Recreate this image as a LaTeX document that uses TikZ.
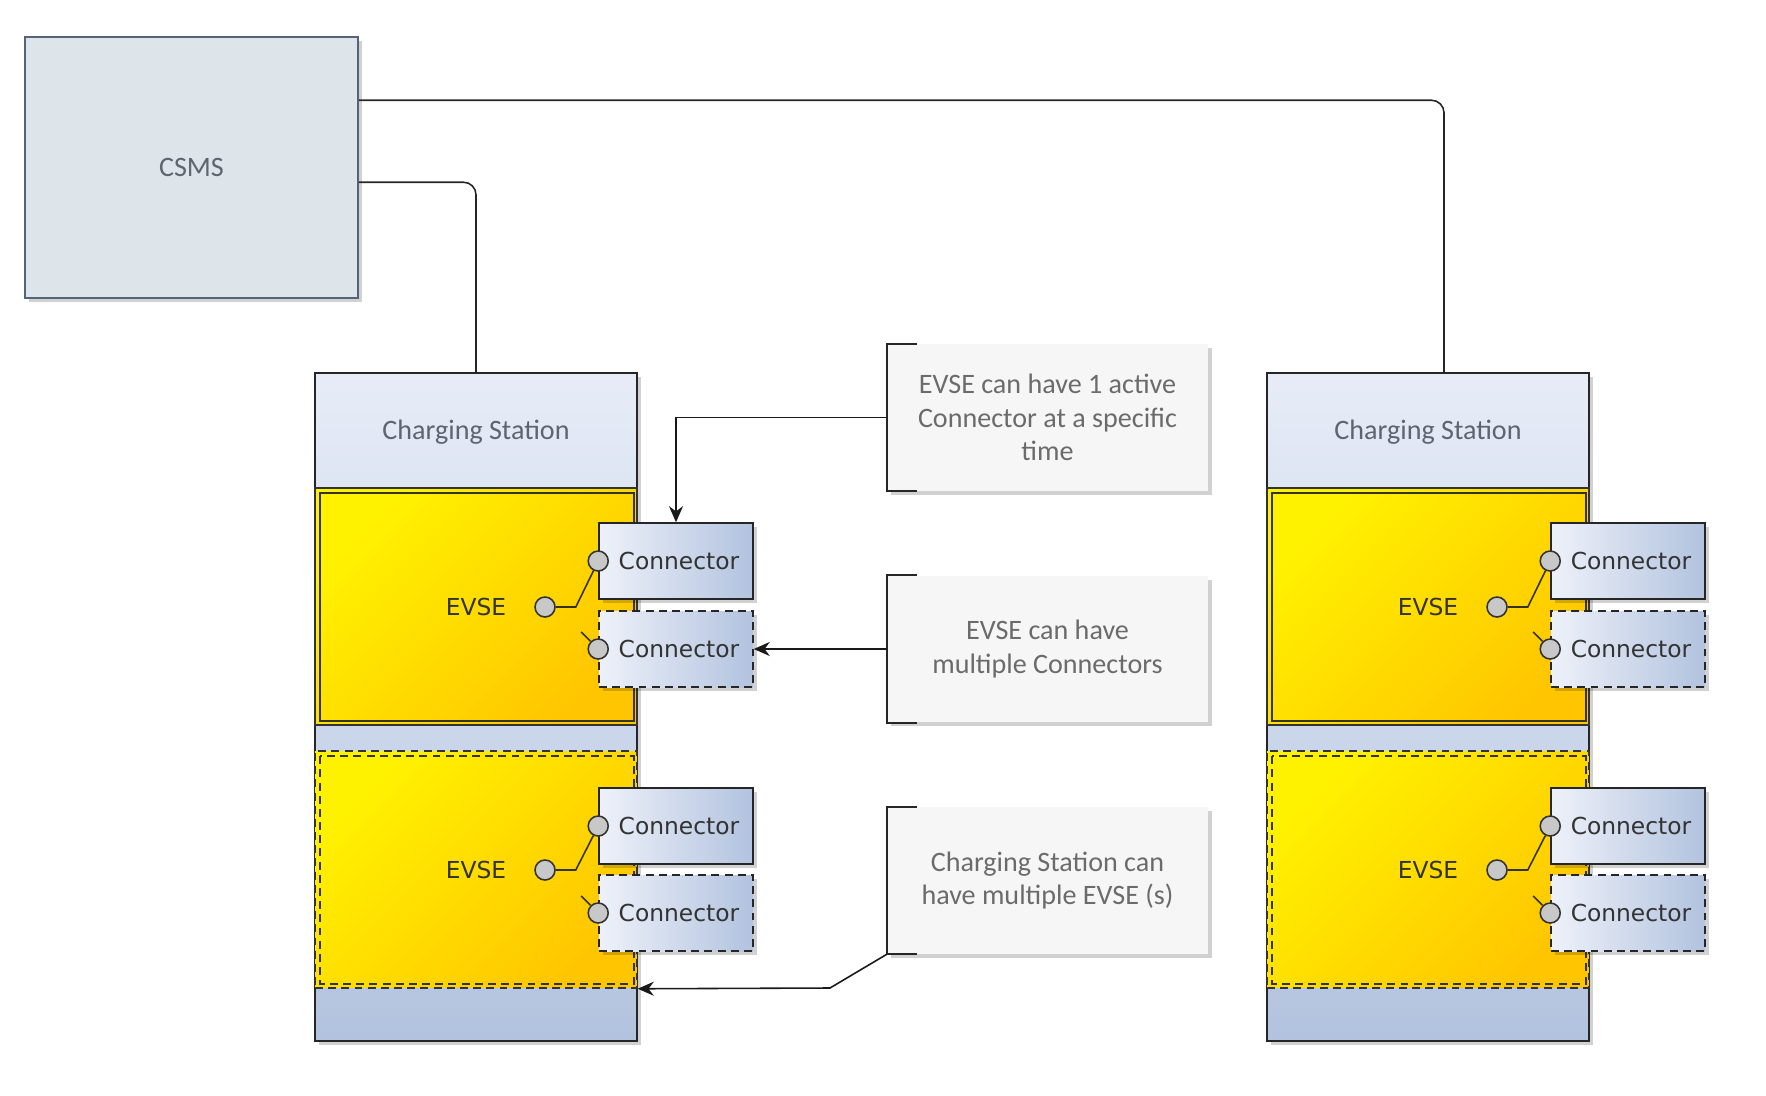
\documentclass[tikz,border=0pt]{standalone}
\usepackage{fontspec}
\setmainfont{Carlito}
\newfontfamily\dejavu{DejaVu Sans}
\usetikzlibrary{
    arrows.meta,
    positioning,
    calc,
    shadows
}
\definecolor{csmsFill}{RGB}{221,229,234}
\definecolor{csmsLine}{RGB}{86,100,122}
\definecolor{stTop}{RGB}{231,236,247}
\definecolor{stBot}{RGB}{178,195,223}
\definecolor{evLight}{RGB}{255,242,0}
\definecolor{evDark}{RGB}{255,198,0}
\definecolor{conLight}{RGB}{238,241,249}
\definecolor{conDark}{RGB}{178,195,223}
\definecolor{plugFill}{RGB}{200,200,200}
\definecolor{noteFill}{RGB}{246,246,246}
\definecolor{txtGray}{RGB}{95,100,110}
\definecolor{wireDark}{RGB}{55,50,30}
\tikzset{
  lowshadow/.style = {drop shadow={shadow xshift=0.08cm, shadow yshift=-0.08cm,
                      fill=black, opacity=0.18}},
  csms/.style      = {draw=csmsLine, fill=csmsFill, line width=0.9pt,
                      minimum width=6.66cm, minimum height=5.22cm,
                      font=\fontsize{16}{19}\selectfont, text=txtGray, lowshadow},
  station/.style   = {draw=black!85, line width=1.1pt, top color=stTop,
                      bottom color=stBot, minimum width=6.44cm,
                      minimum height=13.36cm, lowshadow},
  stlabel/.style   = {font=\fontsize{16}{19}\selectfont, text=txtGray},
  evse/.style      = {draw=black!80, line width=0.9pt, top color=evLight,
                      bottom color=evDark, shading angle=45,
                      minimum width=6.44cm, minimum height=4.74cm,
                      font=\dejavu\fontsize{13.3}{16}\selectfont, text=black!80},
  evsealt/.style   = {evse, dash pattern=on 4.5pt off 3pt},
  conbox/.style    = {draw=black!85, line width=0.9pt, left color=conLight,
                      right color=conDark, minimum width=3.08cm,
                      minimum height=1.52cm, inner sep=0pt,
                      font=\dejavu\fontsize{13.3}{16}\selectfont, text=black!80,
                      lowshadow},
  conalt/.style    = {conbox, dash pattern=on 4.5pt off 3pt},
  plug/.style      = {circle, draw=black!80, fill=plugFill, line width=0.9pt,
                      minimum size=0.4cm, inner sep=0pt},
  note/.style      = {fill=noteFill, minimum width=6.42cm, minimum height=2.94cm,
                      align=center, font=\fontsize{16}{19}\selectfont,
                      text=black!58, lowshadow},
  bracket/.style   = {draw=black!85, line width=1.1pt},
  wire/.style      = {draw=wireDark, line width=0.9pt},
  link/.style      = {draw=black!85, line width=0.9pt, rounded corners=0.25cm},
  arr/.style       = {-{Stealth[length=0.32cm,width=0.28cm]}, draw=black!90,
                      line width=0.9pt}
}

\begin{document}
\begin{tikzpicture}[x=0.02cm, y=-0.02cm]
\useasboundingbox (0,0) rectangle (1766,1096);

% --- CENTRAL SYSTEM ---
\node[csms] (csms) at (191.5,167.5) {CSMS};

% --- LEFT CHARGING STATION ---
\node[station] (stA) at (476,707) {};
\node[stlabel] (tA) at (476,432) {Charging Station};
\node[evse] (evA1) at (476,606.5) {EVSE};
\draw[draw=black!80, line width=0.9pt]
    ($(evA1.north west)+(6,6)$) rectangle ($(evA1.south east)+(-4,-5)$);
\node[evsealt] (evA2) at (476,869.5) {EVSE};
\draw[draw=black!80, line width=0.9pt, dash pattern=on 4.5pt off 3pt]
    ($(evA2.north west)+(6,6)$) rectangle ($(evA2.south east)+(-4,-5)$);

\node[conbox] (conA1) at (676,561) {\hspace{0.12cm}Connector};
\node[conalt] (conA2) at (676,649) {\hspace{0.12cm}Connector};
\node[conbox] (conA3) at (676,826) {\hspace{0.12cm}Connector};
\node[conalt] (conA4) at (676,913) {\hspace{0.12cm}Connector};

\node[plug] (peA1) at (545,607) {};
\node[plug] (peA2) at (545,870) {};
\node[plug] (pcA1) at (conA1.west) {};
\node[plug] (pcA2) at (conA2.west) {};
\node[plug] (pcA3) at (conA3.west) {};
\node[plug] (pcA4) at (conA4.west) {};
\draw[wire] (peA1.east) -- ++(20,0) -- (pcA1);
\draw[wire] (peA2.east) -- ++(20,0) -- (pcA3);
\draw[wire] (pcA2) -- ++(-17,-17);
\draw[wire] (pcA4) -- ++(-17,-17);

% --- RIGHT CHARGING STATION ---
\node[station] (stB) at (1428,707) {};
\node[stlabel] (tB) at (1428,432) {Charging Station};
\node[evse] (evB1) at (1428,606.5) {EVSE};
\draw[draw=black!80, line width=0.9pt]
    ($(evB1.north west)+(6,6)$) rectangle ($(evB1.south east)+(-4,-5)$);
\node[evsealt] (evB2) at (1428,869.5) {EVSE};
\draw[draw=black!80, line width=0.9pt, dash pattern=on 4.5pt off 3pt]
    ($(evB2.north west)+(6,6)$) rectangle ($(evB2.south east)+(-4,-5)$);

\node[conbox] (conB1) at (1628,561) {\hspace{0.12cm}Connector};
\node[conalt] (conB2) at (1628,649) {\hspace{0.12cm}Connector};
\node[conbox] (conB3) at (1628,826) {\hspace{0.12cm}Connector};
\node[conalt] (conB4) at (1628,913) {\hspace{0.12cm}Connector};

\node[plug] (peB1) at (1497,607) {};
\node[plug] (peB2) at (1497,870) {};
\node[plug] (pcB1) at (conB1.west) {};
\node[plug] (pcB2) at (conB2.west) {};
\node[plug] (pcB3) at (conB3.west) {};
\node[plug] (pcB4) at (conB4.west) {};
\draw[wire] (peB1.east) -- ++(20,0) -- (pcB1);
\draw[wire] (peB2.east) -- ++(20,0) -- (pcB3);
\draw[wire] (pcB2) -- ++(-17,-17);
\draw[wire] (pcB4) -- ++(-17,-17);

% --- LINKS CSMS TO STATIONS ---
\draw[link] ([yshift=-1.28cm]csms.north east) -| ([xshift=0.32cm]stB.north);
\draw[link] ([yshift=-2.92cm]csms.north east) -| (stA.north);

% --- NOTES ---
\node[note] (n1) at (1047.5,417.5) {EVSE can have 1 active\\Connector at a specific\\time};
\node[note] (n2) at (1047.5,649) {EVSE can have\\multiple Connectors};
\node[note] (n3) at (1047.5,880.5) {Charging Station can\\have multiple EVSE (s)};

\draw[bracket] ($(n1.north west)+(30,0)$) -- (n1.north west) -- (n1.south west) -- ++(30,0);
\draw[bracket] ($(n2.north west)+(30,0)$) -- (n2.north west) -- (n2.south west) -- ++(30,0);
\draw[bracket] ($(n3.north west)+(30,0)$) -- (n3.north west) -- (n3.south west) -- ++(30,0);

% --- NOTE ARROWS ---
\coordinate (kink) at (830,988);
\draw[arr] (n1.west) -| (conA1.north);
\draw[arr] (n2.west) -- (conA2.east);
\draw[arr] (n3.south west) -- (kink) -- (evA2.south east);
\end{tikzpicture}
\end{document}
